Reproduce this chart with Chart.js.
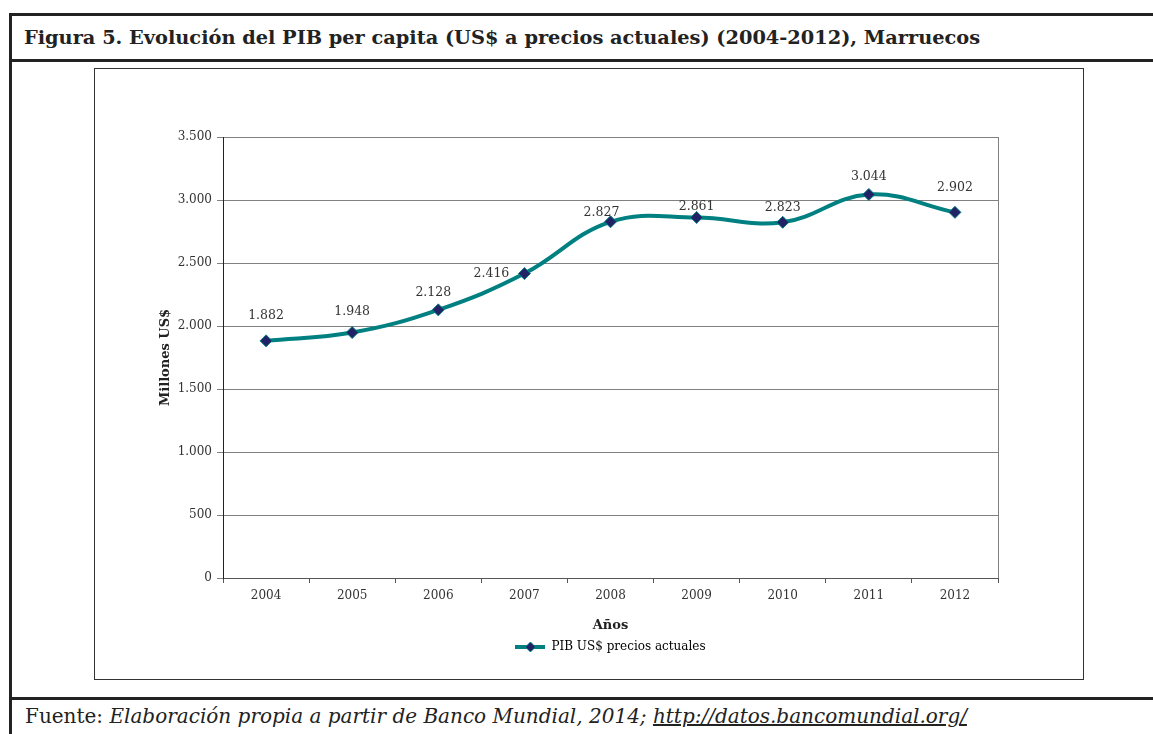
<!DOCTYPE html>
<html>
<head>
<meta charset="utf-8">
<script src="https://cdn.jsdelivr.net/npm/chart.js@4.4.1/dist/chart.umd.min.js"></script>
<style>
  html, body { margin: 0; padding: 0; background: #fff; }
  body { width: 1153px; height: 734px; position: relative; overflow: hidden; font-family: "DejaVu Serif", serif; }
  .line { position: absolute; background: #222; }
  #title { position: absolute; left: 24px; top: 26px; font-weight: bold; font-size: 19.35px; color: #222; white-space: nowrap; }
  #box { position: absolute; left: 94px; top: 68px; width: 988px; height: 610px; border: 1px solid #333; }
  #foot { position: absolute; left: 25px; top: 704px; font-size: 20px; color: #222; white-space: nowrap; }
  #foot i { font-style: italic; }
  #foot u { font-style: italic; }
</style>
</head>
<body>
<div class="line" style="left:10px;top:13px;width:1143px;height:3px"></div>
<div class="line" style="left:10px;top:59px;width:1143px;height:3px"></div>
<div class="line" style="left:9px;top:13px;width:3px;height:721px"></div>
<div class="line" style="left:10px;top:697px;width:1143px;height:3px"></div>
<div id="title">Figura 5. Evolución del PIB per capita (US$ a precios actuales) (2004-2012), Marruecos</div>
<div id="box"><canvas id="chart" width="988" height="610"></canvas></div>
<div id="foot">Fuente: <i>Elaboración propia a partir de Banco Mundial, 2014; </i><u>http://datos.bancomundial.org/</u></div>

<script>
// data
const years = ['2004', '2005', '2006', '2007', '2008', '2009', '2010', '2011', '2012'];
const pibValues = [1882, 1948, 2128, 2416, 2827, 2861, 2823, 3044, 2902];
const yTicks = [0, 500, 1000, 1500, 2000, 2500, 3000, 3500];

// label nudges (px) copied from the original's hand placed labels
const labelDx = [0, 0, -5, -33, -9, 0, 0, 0, 0];
const labelDy = [-25, -21, -17, 0, -9, -11, -15, -18, -25];

const TEAL = '#008080';
const NAVY = '#222266';
const FONT = '"DejaVu Serif", serif';

// 1.882 style thousands separator
const fmt = v => String(v).replace(/\B(?=(\d{3})+(?!\d))/g, '.');

// legend swatch: line with a diamond on it
const swatch = document.createElement('canvas');
swatch.width = 30; swatch.height = 12;
{
  const c = swatch.getContext('2d');
  c.strokeStyle = TEAL; c.lineWidth = 4;
  c.beginPath(); c.moveTo(0, 6); c.lineTo(30, 6); c.stroke();
  c.fillStyle = NAVY; c.strokeStyle = TEAL; c.lineWidth = 1;
  c.beginPath(); c.moveTo(15, 1); c.lineTo(20, 6); c.lineTo(15, 11); c.lineTo(10, 6); c.closePath();
  c.fill(); c.stroke();
}

const valueLabels = {
  id: 'valueLabels',
  afterDatasetsDraw(chart) {
    const { ctx } = chart;
    const meta = chart.getDatasetMeta(0);
    ctx.save();
    ctx.font = '12.5px ' + FONT;
    ctx.fillStyle = '#333';
    ctx.textAlign = 'center';
    ctx.textBaseline = 'middle';
    meta.data.forEach((pt, i) => {
      ctx.fillText(fmt(pibValues[i]), pt.x + labelDx[i], pt.y + labelDy[i]);
    });
    ctx.restore();
  }
};

// gray frame on the right side of the plot
const plotFrame = {
  id: 'plotFrame',
  beforeDatasetsDraw(chart) {
    const { ctx, chartArea: a } = chart;
    ctx.save();
    ctx.strokeStyle = '#808080';
    ctx.lineWidth = 1;
    ctx.beginPath();
    ctx.moveTo(a.right + 0.5, a.top);
    ctx.lineTo(a.right + 0.5, a.bottom);
    ctx.stroke();
    ctx.restore();
  }
};

// center the legend under the plot, not under the whole canvas
const centerLegend = {
  id: 'centerLegend',
  afterLayout(chart) {
    const l = chart.legend;
    const a = chart.chartArea;
    const shift = (a.left + a.right) / 2 - (l.left + l.right) / 2;
    l.left += shift;
    l.right += shift;
  }
};

new Chart(document.getElementById('chart'), {
  type: 'line',
  data: {
    labels: years,
    datasets: [{
      label: 'PIB US$ precios actuales',
      data: pibValues,
      borderColor: TEAL,
      borderWidth: 4,
      tension: 0.4,
      pointStyle: 'rectRot',
      pointRadius: 6,
      pointBackgroundColor: NAVY,
      pointBorderColor: TEAL,
      pointBorderWidth: 1,
    }],
  },
  options: {
    responsive: false,
    animation: false,
    layout: { padding: { left: 0, top: 68, right: 85, bottom: 16 } },
    plugins: {
      tooltip: { enabled: false },
      legend: {
        position: 'bottom',
        labels: {
          usePointStyle: true,
          pointStyle: swatch,
          pointStyleWidth: 30,
          padding: 8,
          color: '#222',
          font: { family: FONT, size: 12 },
          generateLabels: chart => [{
            text: chart.data.datasets[0].label,
            pointStyle: swatch,
            fillStyle: TEAL,
            strokeStyle: TEAL,
            lineWidth: 0,
            datasetIndex: 0,
          }],
        },
      },
    },
    scales: {
      x: {
        offset: true,
        grid: { offset: true, drawOnChartArea: false, color: '#555', tickLength: 5 },
        border: { color: '#555' },
        ticks: { color: '#333', font: { family: FONT, size: 12 }, padding: 6, maxRotation: 0 },
        title: { display: true, text: 'Años', color: '#222', font: { family: FONT, size: 13, weight: 'bold' }, padding: { top: 6, bottom: 0 } },
        afterFit: s => { s.height = 55; },
      },
      y: {
        min: 0,
        max: 3500,
        afterBuildTicks: s => { s.ticks = yTicks.map(v => ({ value: v })); },
        grid: { color: '#808080', tickLength: 6 },
        border: { color: '#222' },
        ticks: { color: '#333', font: { family: FONT, size: 12 }, padding: 5, callback: v => fmt(v) },
        title: { display: true, text: 'Millones US$', color: '#222', font: { family: FONT, size: 13, weight: 'bold' }, padding: { top: 63, bottom: 0 } },
        afterFit: s => { s.width = 128; },
      },
    },
  },
  plugins: [valueLabels, plotFrame, centerLegend],
});
</script>
</body>
</html>
